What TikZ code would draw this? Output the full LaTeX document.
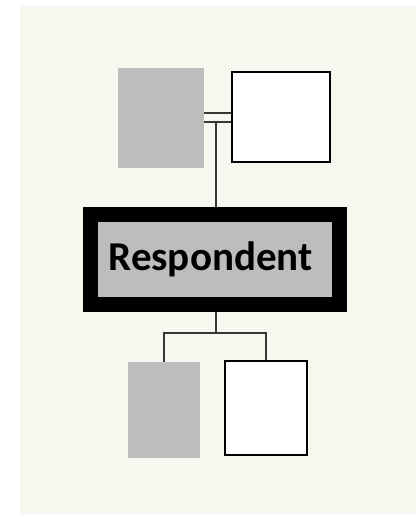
\documentclass[tikz,border=0pt]{standalone}
\usepackage{fontspec}
\setmainfont{Carlito}
\usetikzlibrary{positioning,calc}
\definecolor{paper}{RGB}{247,247,239}
\definecolor{shade}{RGB}{189,189,189}
\definecolor{wire}{RGB}{55,55,55}
\tikzset{
  ghost/.style={fill=shade,inner sep=0pt},
  person/.style={draw=black,line width=1.2pt,fill=white,inner sep=0pt},
  link/.style={draw=wire,line width=1.3pt},
  ego/.style={draw=black,line width=7.5pt,fill=shade,inner sep=0pt,
    minimum width=124.5pt,minimum height=45pt,font=\fontsize{20.5}{24}\selectfont\bfseries},
}

\begin{document}
\begin{tikzpicture}[x=0.5pt,y=-0.5pt]
    % page
    \useasboundingbox (0,0) rectangle (416,514);
    \fill[white] (0,0) rectangle (416,514);
    \fill[paper] (20,6) rectangle (416,514);
    % parents
    \node[ghost,minimum width=43pt,minimum height=50pt] (mother) at (161,118) {};
    \node[person,minimum width=49pt,minimum height=45pt] (father) at (281,117) {};
    \coordinate (wed) at (216,122);
    \draw[link] (mother.east |- 0,113) -- (father.west |- 0,113);
    \draw[link] (mother.east |- wed) -- (father.west |- wed);
    % respondent
    \node[ego] (resp) at (215,259.5) {\hspace*{-4.5pt}\raisebox{-1pt}{Respondent}};
    \draw[link] (wed) -- (wed |- resp.north);
    % children
    \node[ghost,minimum width=36pt,minimum height=48pt] (kid1) at (164,410) {};
    \node[person,minimum width=41pt,minimum height=47pt] (kid2) at (266,408) {};
    \coordinate (fork) at (216,333);
    \draw[link] (resp.south -| fork) -- (fork);
    \draw[link] (kid1.north) -- (kid1.north |- fork) -- (kid2.north |- fork) -- (kid2.north);
\end{tikzpicture}
\end{document}
